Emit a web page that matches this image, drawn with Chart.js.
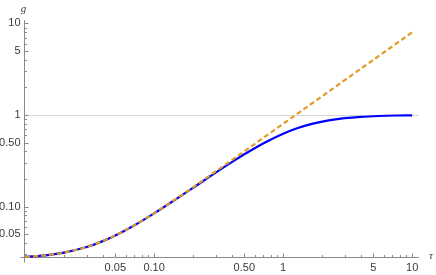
<!DOCTYPE html>
<html>
<head>
<meta charset="utf-8">
<script src="https://cdn.jsdelivr.net/npm/chart.js@4.4.0/dist/chart.umd.min.js"></script>
<style>
  html, body { margin: 0; padding: 0; background: #fff; }
  #wrap { width: 436px; height: 275px; }
</style>
</head>
<body>
<div id="wrap"><canvas id="chart_g" width="436" height="275"></canvas></div>
<script>
// values (log-log)
const tau = [0.01, 0.015, 0.02, 0.03, 0.04, 0.05, 0.07, 0.1, 0.15, 0.2, 0.3, 0.4, 0.5, 0.7, 1, 1.3, 1.7, 2.2, 3, 4, 5.5, 7.5, 10];
const gFull = [0.0282, 0.0295, 0.0314, 0.0361, 0.0419, 0.0483, 0.0621, 0.0841, 0.1221, 0.160, 0.235, 0.3057, 0.372, 0.489, 0.625, 0.7208, 0.8057, 0.8694, 0.923, 0.9545, 0.9751, 0.9864, 0.9923];
const gLinear = [0.0282, 0.0295, 0.0314, 0.0361, 0.0419, 0.0483, 0.0622, 0.0844, 0.123, 0.162, 0.242, 0.3211, 0.401, 0.561, 0.80, 1.04, 1.36, 1.76, 2.4, 3.2, 4.4, 6.0, 8.0];

const xMajor = [0.05, 0.1, 0.5, 1, 5, 10];
const xMajorLabels = ['0.05', '0.10', '0.50', '1', '5', '10'];
const xMinor = [0.01, 0.02, 0.03, 0.04, 0.06, 0.07, 0.08, 0.09, 0.2, 0.3, 0.4, 0.6, 0.7, 0.8, 0.9, 2, 3, 4, 6, 7, 8, 9];
const yMajor = [0.05, 0.1, 0.5, 1, 5, 10];
const yMajorLabels = ['0.05', '0.10', '0.50', '1', '5', '10'];
const yMinor = [0.03, 0.04, 0.06, 0.07, 0.08, 0.09, 0.2, 0.3, 0.4, 0.6, 0.7, 0.8, 0.9, 2, 3, 4, 6, 7, 8, 9];

const xRange = [0.0098, 11.3];
const yRange = [0.0281, 10.9];

const axisColor = '#8a8a8a';
const labelColor = '#3a3a3a';
const labelFont = '11px "Liberation Sans", Arial, sans-serif';

// Mathematica-style axes: inward ticks, gridline at g = 1
const mmaAxes = {
    id: 'mmaAxes',
    beforeDatasetsDraw(chart) {
        const ctx = chart.ctx;
        const xs = chart.scales.x, ys = chart.scales.y;
        const area = chart.chartArea;
        const x0 = Math.round(xs.getPixelForValue(xRange[0])) + 0.5;
        const y0 = Math.round(ys.getPixelForValue(yRange[0])) + 0.5;
        ctx.save();
        ctx.lineWidth = 1;

        // gridline at 1
        ctx.strokeStyle = '#d6d6d6';
        const g1 = Math.round(ys.getPixelForValue(1)) + 0.5;
        ctx.beginPath();
        ctx.moveTo(x0, g1);
        ctx.lineTo(area.right, g1);
        ctx.stroke();

        // axes lines
        ctx.strokeStyle = axisColor;
        ctx.beginPath();
        ctx.moveTo(x0, area.top);
        ctx.lineTo(x0, y0 + 5);
        ctx.moveTo(x0 - 4, y0);
        ctx.lineTo(area.right, y0);
        ctx.stroke();

        // ticks
        ctx.beginPath();
        xMajor.forEach(v => {
            const p = Math.round(xs.getPixelForValue(v)) + 0.5;
            ctx.moveTo(p, y0); ctx.lineTo(p, y0 - 4);
        });
        xMinor.forEach(v => {
            const p = Math.round(xs.getPixelForValue(v)) + 0.5;
            ctx.moveTo(p, y0); ctx.lineTo(p, y0 - 2.5);
        });
        yMajor.forEach(v => {
            const p = Math.round(ys.getPixelForValue(v)) + 0.5;
            ctx.moveTo(x0, p); ctx.lineTo(x0 + 4, p);
        });
        yMinor.forEach(v => {
            const p = Math.round(ys.getPixelForValue(v)) + 0.5;
            ctx.moveTo(x0, p); ctx.lineTo(x0 + 2.5, p);
        });
        ctx.stroke();

        // tick labels
        ctx.fillStyle = labelColor;
        ctx.font = labelFont;
        ctx.textAlign = 'center';
        ctx.textBaseline = 'top';
        xMajor.forEach((v, i) => {
            ctx.fillText(xMajorLabels[i], xs.getPixelForValue(v), y0 + 5);
        });
        ctx.textAlign = 'right';
        ctx.textBaseline = 'middle';
        yMajor.forEach((v, i) => {
            ctx.fillText(yMajorLabels[i], x0 - 4, ys.getPixelForValue(v));
        });

        // axis names
        ctx.font = 'italic 11px "Liberation Serif", "Times New Roman", serif';
        ctx.textAlign = 'center';
        ctx.fillText('g', x0 - 1, 9);
        ctx.textAlign = 'left';
        ctx.fillText('\u03c4', area.right + 10, y0 - 1);
        ctx.restore();
    }
};

const elem = document.getElementById('chart_g');
const chart = new Chart(elem.getContext('2d'), {
    type: 'line',
    data: {
        datasets: [
            {
                label: 'linear',
                data: tau.map((t, i) => ({ x: t, y: gLinear[i] })),
                borderColor: 'rgb(225,156,36)',
                borderWidth: 2.2,
                borderDash: [5, 3],
                pointRadius: 0,
                cubicInterpolationMode: 'monotone',
                fill: false,
                clip: 4,
                order: 0
            },
            {
                label: 'full',
                data: tau.map((t, i) => ({ x: t, y: gFull[i] })),
                borderColor: 'rgb(0,0,255)',
                borderWidth: 2.2,
                pointRadius: 0,
                cubicInterpolationMode: 'monotone',
                fill: false,
                clip: 4,
                order: 1
            }
        ]
    },
    options: {
        responsive: false,
        animation: false,
        layout: { padding: { left: 24, right: 17, top: 20, bottom: 18 } },
        plugins: { legend: { display: false }, tooltip: { enabled: false } },
        scales: {
            x: { type: 'logarithmic', min: xRange[0], max: xRange[1], display: false },
            y: { type: 'logarithmic', min: yRange[0], max: yRange[1], display: false }
        }
    },
    plugins: [mmaAxes]
});
</script>
</body>
</html>
